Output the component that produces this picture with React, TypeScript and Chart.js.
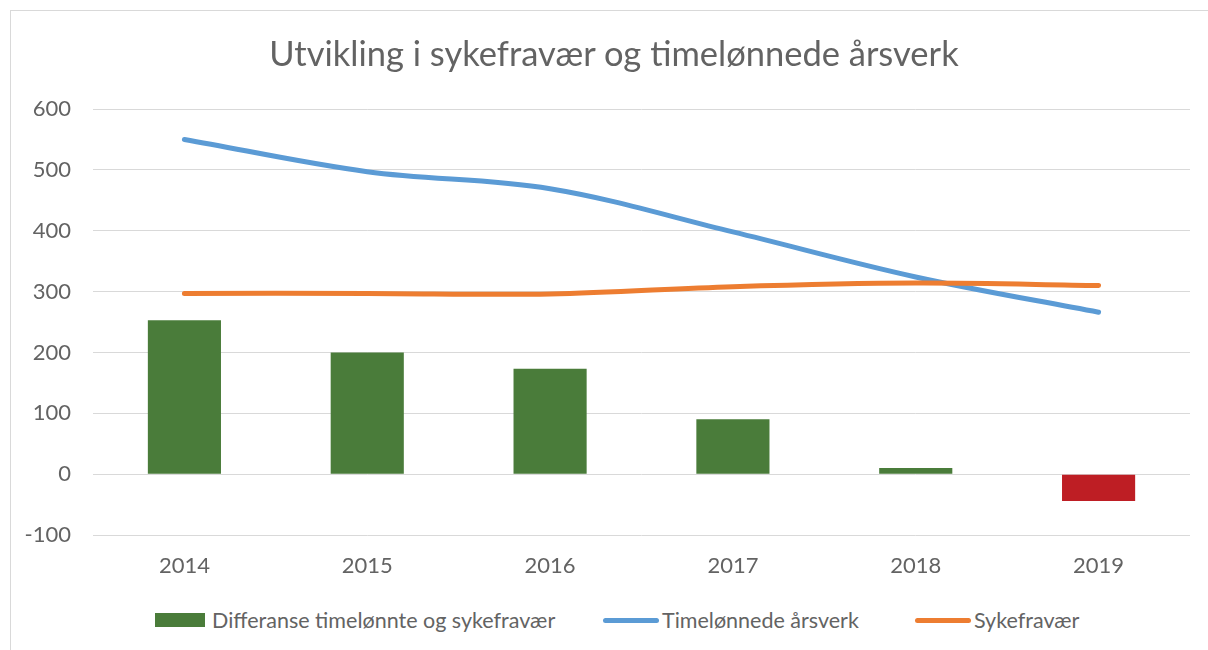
import React, { useEffect, useRef } from 'react';
import { Chart, registerables } from 'chart.js';

Chart.register(...registerables);

const TITLE = 'Utvikling i sykefravær og timelønnede årsverk';
const categories = ['2014', '2015', '2016', '2017', '2018', '2019'];
const differanse = [253, 200, 173, 90, 10, -44];
const timelonnede = [550, 497, 469, 398, 324, 266];
const sykefravaer = [297, 297, 296, 308, 314, 310];
const seriesLabels = ['Differanse timelønnte og sykefravær', 'Timelønnede årsverk', 'Sykefravær'];
const yMin = -100;
const yMax = 600;
const yStep = 100;

const GREEN = '#4A7C3A';
const RED = '#BE1E24';
const BLUE = '#5B9BD5';
const ORANGE = '#ED7D31';
const TEXT = '#636363';
const GRID = '#D9D9D9';
const FONT = 'Lato, "Liberation Sans", sans-serif';

export default function App() {
  const ref = useRef<HTMLCanvasElement>(null);

  useEffect(() => {
    const chart = new Chart(ref.current!, {
      type: 'bar',
      data: {
        labels: categories,
        datasets: [
          {
            type: 'bar',
            label: seriesLabels[0],
            data: differanse,
            backgroundColor: differanse.map((v) => (v < 0 ? RED : GREEN)),
            barPercentage: 0.4,
            categoryPercentage: 1,
            order: 2,
          } as any,
          {
            type: 'line',
            label: seriesLabels[1],
            data: timelonnede,
            borderColor: BLUE,
            backgroundColor: BLUE,
            borderWidth: 5,
            tension: 0.35,
            pointRadius: 0,
            borderCapStyle: 'round',
            borderJoinStyle: 'round',
            order: 1,
          } as any,
          {
            type: 'line',
            label: seriesLabels[2],
            data: sykefravaer,
            borderColor: ORANGE,
            backgroundColor: ORANGE,
            borderWidth: 5,
            tension: 0.35,
            pointRadius: 0,
            borderCapStyle: 'round',
            borderJoinStyle: 'round',
            order: 0,
          } as any,
        ],
      },
      options: {
        animation: false,
        responsive: false,
        maintainAspectRatio: false,
        layout: { padding: { left: 0, right: 28, top: 99, bottom: 0 } },
        plugins: {
          legend: { display: false },
          tooltip: { enabled: false },
          title: { display: false },
        },
        scales: {
          x: {
            grid: { display: false },
            border: { display: false },
            ticks: { color: TEXT, font: { family: FONT, size: 22 }, padding: 10 },
            afterFit: (s: any) => {
              s.height = 50;
            },
          },
          y: {
            min: yMin,
            max: yMax,
            ticks: { stepSize: yStep, color: TEXT, font: { family: FONT, size: 22 }, padding: 22 },
            grid: { color: GRID, lineWidth: 1, drawTicks: false },
            border: { display: false },
            afterFit: (s: any) => {
              s.width = 83;
            },
          },
        },
      },
    });
    return () => chart.destroy();
  }, []);

  const legendText: React.CSSProperties = {
    fontFamily: FONT,
    fontSize: 21.5,
    color: TEXT,
    whiteSpace: 'nowrap',
    lineHeight: '24px',
  };

  const items = [
    { left: 144, gap: 7, swatch: { width: 50, height: 14, background: GREEN } },
    { left: 592, gap: 3, swatch: { width: 56, height: 5, background: BLUE, borderRadius: 3 } },
    { left: 904, gap: 3, swatch: { width: 56, height: 5, background: ORANGE, borderRadius: 3 } },
  ];

  return (
    <div style={{ position: 'fixed', left: 0, top: 0, width: 1208, height: 650, overflow: 'hidden', background: '#fff' }}>
      <div
        style={{
          position: 'absolute',
          left: 10,
          top: 10,
          width: 1220,
          height: 660,
          border: '1px solid #D9D9D9',
          boxSizing: 'border-box',
        }}
      >
        <canvas ref={ref} width={1208} height={575} style={{ position: 'absolute', left: -1, top: -1, width: 1208, height: 575 }} />
        <div
          style={{
            position: 'absolute',
            left: -1,
            top: 21,
            width: 1208,
            textAlign: 'center',
            fontFamily: FONT,
            fontSize: 34.5,
            lineHeight: '41.4px',
            color: TEXT,
            whiteSpace: 'nowrap',
          }}
        >
          {TITLE}
        </div>
        {items.map((it, i) => (
          <div
            key={i}
            style={{ position: 'absolute', left: it.left, top: 597, display: 'flex', alignItems: 'center', height: 24 }}
          >
            <div style={{ ...it.swatch, marginRight: it.gap, flexShrink: 0 }} />
            <span style={legendText}>{seriesLabels[i]}</span>
          </div>
        ))}
      </div>
    </div>
  );
}
